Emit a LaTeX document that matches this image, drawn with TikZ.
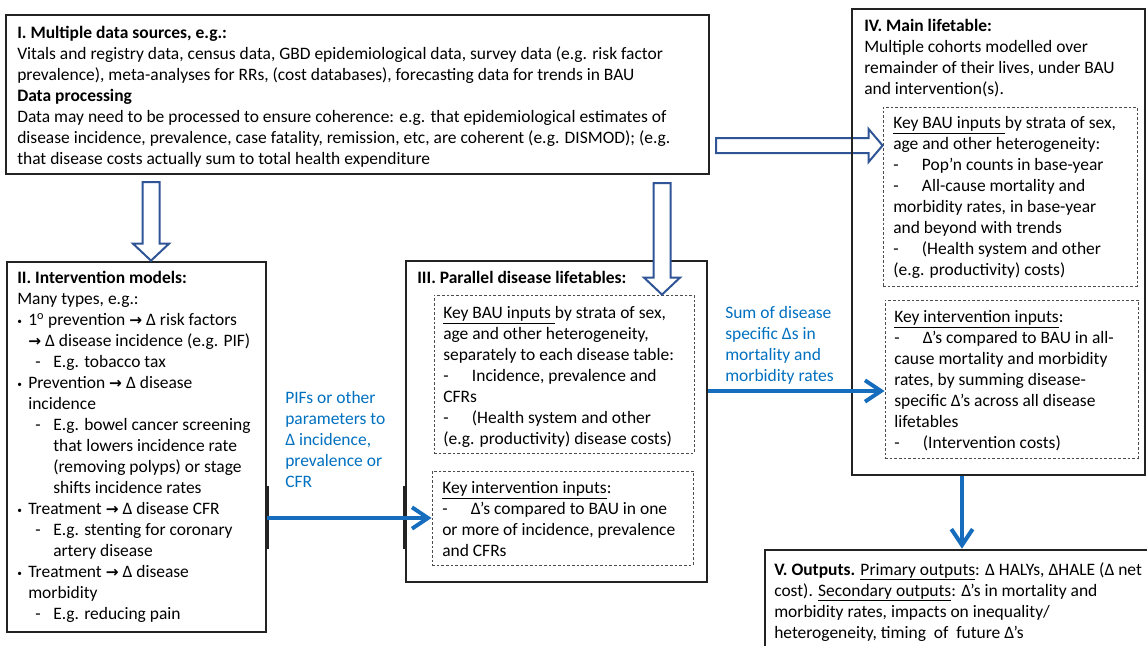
\documentclass[tikz,border=0pt]{standalone}
\usepackage{fontspec}
\setmainfont{Carlito}
\newfontfamily\arrowfont{DejaVu Sans}
\usepackage{tikz}
\usetikzlibrary{fit,calc,arrows.meta}
\definecolor{boxline}{RGB}{35,35,35}
\definecolor{hollowblue}{RGB}{47,85,151}
\definecolor{flowblue}{RGB}{23,109,189}
\definecolor{labelblue}{RGB}{0,112,192}
\newcommand{\Arr}{{\arrowfont\bfseries\fontsize{11.5}{15.75}\selectfont →}}
\newcommand{\Bul}{\makebox[8.25pt][l]{\raisebox{0.6pt}{\scriptsize\textbullet}}}
\newcommand{\SubDash}{\hspace*{13.5pt}\makebox[13.5pt][l]{-}}
\newcommand{\KeyDash}{\makebox[21.5pt][l]{-}}
\newcommand{\HollowDown}[2]{%
  \draw[hollow] ($(#1)+(-8.5,0)$) -- ($(#2)+(-8.5,-17)$) -- ($(#2)+(-18,-17)$) -- (#2)
    -- ($(#2)+(18,-17)$) -- ($(#2)+(8.5,-17)$) -- ($(#1)+(8.5,0)$) -- cycle;}
\newcommand{\HollowRight}[2]{%
  \draw[hollow] ($(#1)+(0,-7.5)$) -- ($(#2)+(-14,-7.5)$) -- ($(#2)+(-14,-16.5)$) -- (#2)
    -- ($(#2)+(-14,16.5)$) -- ($(#2)+(-14,7.5)$) -- ($(#1)+(0,7.5)$) -- cycle;}
\tikzset{
  stage/.style={draw=boxline, line width=2pt, inner sep=0pt},
  inputs/.style={draw=black!70, line width=0.6pt, inner sep=0pt, dash pattern=on 2pt off 1.5pt},
  txt/.style={anchor=north west, inner sep=0pt, align=left, font=\fontsize{13.1}{15.75}\selectfont},
  bluetxt/.style={txt, text=labelblue},
  flow/.style={draw=flowblue, line width=3pt, -{Straight Barb[length=12pt,width=16pt]}},
  hollow/.style={draw=hollowblue, line width=1.5pt, fill=white, line join=miter},
  jointbar/.style={draw=boxline, line width=3pt},
}

\begin{document}
\begin{tikzpicture}[x=0.75pt, y=-0.75pt]
		\useasboundingbox (0,0) rectangle (1147,646);

		% Define boxes
		\node[stage, fit={(6,15) (709,174)}] (srcbox) {};
		\node[txt] (srctext) at (17,26) {\textbf{I. Multiple data sources, e.g.:}\\
			Vitals and registry data, census data, GBD epidemiological data, survey data (e.g. risk factor\\
			prevalence), meta-analyses for RRs, (cost databases), forecasting data for trends in BAU\\
			\textbf{Data processing}\\
			Data may need to be processed to ensure coherence: e.g. that epidemiological estimates of\\
			disease incidence, prevalence, case fatality, remission, etc, are coherent (e.g. DISMOD); (e.g.\\
			that disease costs actually sum to total health expenditure};

		\node[stage, fit={(7,262) (266,632)}] (interv) {};
		\node[txt] (intervtext) at (17,271) {\textbf{II. Intervention models:}\\
			Many types, e.g.:\\
			\Bul 1\textsuperscript{o} prevention \Arr\ Δ risk factors\\
			\hspace*{8.25pt}\Arr\ Δ disease incidence (e.g. PIF)\\
			\SubDash E.g. tobacco tax\\
			\Bul Prevention \Arr\ Δ disease\\
			\hspace*{8.25pt}incidence\\
			\SubDash E.g. bowel cancer screening\\
			\hspace*{27pt}that lowers incidence rate\\
			\hspace*{27pt}(removing polyps) or stage\\
			\hspace*{27pt}shifts incidence rates\\
			\Bul Treatment \Arr\ Δ disease CFR\\
			\SubDash E.g. stenting for coronary\\
			\hspace*{27pt}artery disease\\
			\Bul Treatment \Arr\ Δ disease\\
			\hspace*{8.25pt}morbidity\\
			\SubDash E.g. reducing pain};

		\node[stage, fit={(406,261) (707,582)}] (dislt) {};
		\node[txt] (disltitle) at (417,271) {\textbf{III. Parallel disease lifetables:}};
		\node[inputs, fit={(434,295) (694,453)}] (dislta) {};
		\node[txt] (distexta) at (443,306) {\underline{Key BAU inputs\ }by strata of sex,\\
			age and other heterogeneity,\\
			separately to each disease table:\\
			\KeyDash Incidence, prevalence and\\
			CFRs\\
			\KeyDash (Health system and other\\
			(e.g. productivity) disease costs)};
		\node[inputs, fit={(432,471) (693,565)}] (disltb) {};
		\node[txt] (distextb) at (442,481) {\underline{Key intervention inputs}:\\
			\KeyDash Δ’s compared to BAU in one\\
			or more of incidence, prevalence\\
			and CFRs};

		\node[inputs, fit={(883,107) (1137,286)}] (mainbau) {};
		\node[txt] (maintexta) at (893,116) {\underline{Key BAU inputs\ }by strata of sex,\\
			age and other heterogeneity:\\
			\KeyDash Pop’n counts in base-year\\
			\KeyDash All-cause mortality and\\
			morbidity rates, in base-year\\
			and beyond with trends\\
			\KeyDash (Health system and other\\
			(e.g. productivity) costs)};
		\node[inputs, fit={(885,300) (1138,458)}] (mainint) {};
		\node[txt] (maintextb) at (894,310) {\underline{Key intervention inputs}:\\
			\KeyDash Δ’s compared to BAU in all-\\
			cause mortality and morbidity\\
			rates, by summing disease-\\
			specific Δ’s across all disease\\
			lifetables\\
			\KeyDash (Intervention costs)};

		% Hollow arrows out of the data sources
		\coordinate (h1s) at (151,182);
		\coordinate (h1t) at (interv.north -| h1s);
		\HollowDown{h1s}{h1t}
		\coordinate (h2s) at (662,183);
		\coordinate (h2t) at (dislta.north -| h2s);
		\HollowDown{h2s}{h2t}
		\coordinate (h3s) at (716,145.5);
		\coordinate (h3t) at (mainbau.west |- h3s);
		\HollowRight{h3s}{h3t}

		\node[stage, fit={(852,9) (1145,475)}] (mainlt) {};
		\node[txt] (maintitle) at (864,19) {\textbf{IV. Main lifetable:}\\
			Multiple cohorts modelled over\\
			remainder of their lives, under BAU\\
			and intervention(s).};

		\node[stage, fit={(765,550) (1200,700)}] (outbox) {};
		\node[txt] (outtext) at (774,562) {\textbf{V. Outputs.} \underline{Primary outputs}: Δ HALYs, ΔHALE (Δ net\\
			cost). \underline{Secondary outputs}: Δ’s in mortality and\\
			morbidity rates, impacts on inequality/\\
			heterogeneity, timing\ \ of\ \ future Δ’s};

		% Labels on the flows
		\node[bluetxt] (pifs) at (285,391) {PIFs or other\\
			parameters to\\
			Δ incidence,\\
			prevalence or\\
			CFR};
		\node[bluetxt] (sums) at (725,306) {Sum of disease\\
			specific Δs in\\
			mortality and\\
			morbidity rates};

		% Connect the boxes
		\coordinate (f1) at (0,518);
		\coordinate (f2) at (0,391);
		\coordinate (f3) at (962,0);
		\draw[jointbar] ($(interv.north east)+(0,225)$) -- ++(0,63);
		\draw[jointbar] ($(dislt.north west)+(0,226)$) -- ++(0,63);
		\draw[flow] (interv.east |- f1) -- (disltb.west |- f1);
		\draw[flow] (dislt.east |- f2) -- (mainint.west |- f2);
		\draw[flow] (mainlt.south -| f3) -- (outbox.north -| f3);
	\end{tikzpicture}
\end{document}
